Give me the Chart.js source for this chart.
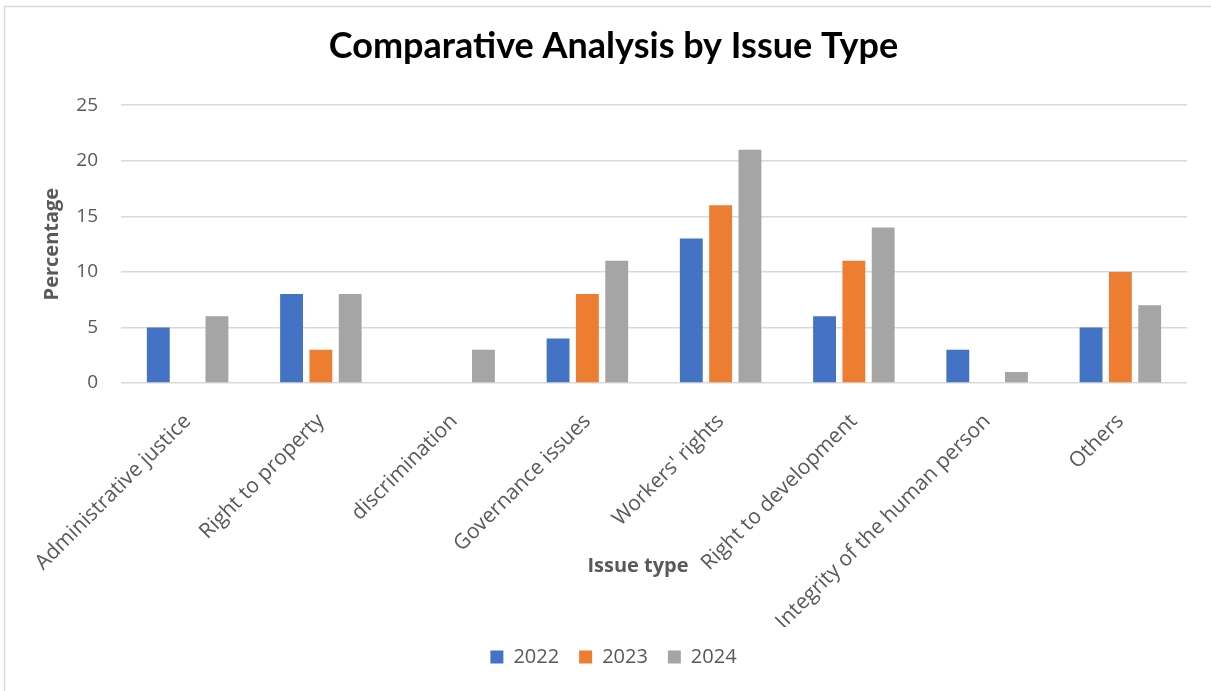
<!DOCTYPE html>
<html>
<head>
<meta charset="utf-8">
<script src="https://cdn.jsdelivr.net/npm/chart.js@4.4.1/dist/chart.umd.min.js"></script>
<style>
  html, body { margin: 0; padding: 0; background: #ffffff; }
  #wrap { position: relative; width: 1211px; height: 691px; }
</style>
</head>
<body>
<div id="wrap"><canvas id="chart" width="1211" height="691"></canvas></div>
<script>
// Issue categories along the x axis
const categories = [
  'Administrative justice',
  'Right to property',
  'discrimination',
  'Governance issues',
  "Workers' rights",
  'Right to development',
  'Integrity of the human person',
  'Others'
];

// Share of complaints per issue type (percentage) for each year
const values2022 = [5, 8, 0, 4, 13, 6, 3, 5];
const values2023 = [0, 3, 0, 8, 16, 11, 0, 10];
const values2024 = [6, 8, 3, 11, 21, 14, 1, 7];

const seriesLabels = ['2022', '2023', '2024'];

// Value axis range
const yMin = 0;
const yMax = 25;
const yStep = 5;

const textGrey = '#595959';
const baseFont = 'Open Sans';
const xTitleText = 'Issue type';

// Thin frame along the top and left of the chart area
const framePlugin = {
  id: 'frame',
  beforeDraw(chart) {
    const ctx = chart.ctx;
    ctx.save();
    ctx.fillStyle = '#ffffff';
    ctx.fillRect(0, 0, chart.width, chart.height);
    ctx.strokeStyle = '#d9d9d9';
    ctx.lineWidth = 1.5;
    ctx.beginPath();
    ctx.moveTo(4.5, chart.height + 5);
    ctx.lineTo(4.5, 6.5);
    ctx.lineTo(chart.width + 5, 6.5);
    ctx.stroke();
    ctx.restore();
  }
};

// Category axis title, set a little left of centre so it clears the rotated labels
const xTitlePlugin = {
  id: 'xTitle',
  afterDraw(chart) {
    const xs = chart.scales.x;
    const ctx = chart.ctx;
    ctx.save();
    ctx.font = 'bold 20px "' + baseFont + '"';
    ctx.fillStyle = textGrey;
    ctx.textAlign = 'center';
    ctx.textBaseline = 'middle';
    ctx.fillText(xTitleText, (xs.left + xs.right) / 2 - 16, xs.bottom - 61);
    ctx.restore();
  }
};

new Chart(document.getElementById('chart'), {
  type: 'bar',
  data: {
    labels: categories,
    datasets: [
      { label: seriesLabels[0], data: values2022, backgroundColor: '#4472C4' },
      { label: seriesLabels[1], data: values2023, backgroundColor: '#ED7D31' },
      { label: seriesLabels[2], data: values2024, backgroundColor: '#A5A5A5' }
    ]
  },
  options: {
    responsive: false,
    animation: false,
    devicePixelRatio: 1,
    datasets: {
      bar: { categoryPercentage: 0.66, barPercentage: 0.78 }
    },
    layout: { padding: { left: 40, right: 24, top: 0, bottom: 14 } },
    plugins: {
      title: {
        display: true,
        text: 'Comparative Analysis by Issue Type',
        color: '#000000',
        font: { family: 'Lato', size: 36, weight: 'bold' },
        padding: { top: 25, bottom: 37 }
      },
      legend: {
        position: 'bottom',
        labels: {
          color: textGrey,
          font: { family: baseFont, size: 20 },
          boxWidth: 13,
          boxHeight: 13,
          padding: 20
        }
      },
      tooltip: { enabled: false }
    },
    scales: {
      x: {
        grid: { display: false },
        border: { display: false },
        afterFit(scale) { scale.height = 244; },
        ticks: {
          color: textGrey,
          font: { family: baseFont, size: 21 },
          minRotation: 45,
          maxRotation: 45,
          autoSkip: false,
          padding: 18
        },
        title: { display: false }
      },
      y: {
        min: yMin,
        max: yMax,
        afterFit(scale) { scale.width = 81; },
        grid: { color: '#d9d9d9', lineWidth: 1.5, drawTicks: false },
        border: { display: false },
        ticks: {
          stepSize: yStep,
          color: textGrey,
          font: { family: baseFont, size: 19 },
          padding: 23
        },
        title: {
          display: true,
          text: 'Percentage',
          color: textGrey,
          font: { family: baseFont, size: 20, weight: 'bold' },
          padding: { top: 0, bottom: 10 }
        }
      }
    }
  },
  plugins: [framePlugin, xTitlePlugin]
});
</script>
</body>
</html>
